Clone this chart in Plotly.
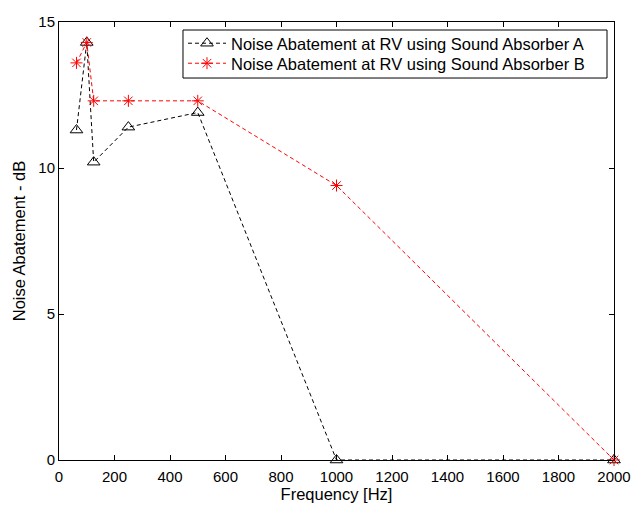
import plotly.graph_objects as go

freq = [63, 100, 125, 250, 500, 1000, 2000]
absorber_a = [11.3, 14.3, 10.2, 11.4, 11.9, 0.0, 0.0]
absorber_b = [13.6, 14.3, 12.3, 12.3, 12.3, 9.4, 0.0]
name_a = "Noise Abatement at RV using Sound Absorber A"
name_b = "Noise Abatement at RV using Sound Absorber B"
x_ticks = list(range(0, 2001, 200))
y_ticks = [0, 5, 10, 15]

FONT = "Liberation Sans, Arial, sans-serif"
DASH = "4px,3px"

fig = go.Figure()
fig.add_trace(go.Scatter(
    x=freq, y=absorber_a, name=name_a, mode="lines+markers", cliponaxis=False,
    legend="legend",
    line=dict(color="black", width=1, dash=DASH),
    marker=dict(symbol="triangle-up-open", size=11, color="black", line=dict(width=1)),
))
fig.add_trace(go.Scatter(
    x=freq, y=absorber_b, name=name_b, mode="lines+markers", cliponaxis=False,
    legend="legend2",
    line=dict(color="red", width=1, dash=DASH),
    marker=dict(symbol="asterisk-open", size=10, color="red", line=dict(width=1, color="red")),
))

axis_common = dict(
    showgrid=False, zeroline=False, showline=True, linecolor="black", linewidth=1,
    mirror="allticks", ticks="inside", ticklen=5, tickcolor="black", automargin=False,
    tickfont=dict(family=FONT, size=15, color="black"),
)
fig.update_xaxes(range=[0, 2000], tickvals=x_ticks, ticklabelstandoff=3,
                 title=dict(text="Frequency [Hz]", font=dict(family=FONT, size=16.5, color="black"), standoff=3),
                 **axis_common)
fig.update_yaxes(range=[0, 15], tickvals=y_ticks,
                 title=dict(text="Noise Abatement - dB", font=dict(family=FONT, size=16.5, color="black"), standoff=8),
                 **axis_common)

legend_common = dict(
    xanchor="left", yanchor="top", bgcolor="rgba(0,0,0,0)", borderwidth=0,
    font=dict(family=FONT, size=16.5, color="black"), itemwidth=38,
)
fig.update_layout(
    width=633, height=505,
    margin=dict(l=59, r=19, t=22, b=45),
    paper_bgcolor="white", plot_bgcolor="white",
    showlegend=True,
    legend=dict(x=0.2234, y=0.9909, **legend_common),
    legend2=dict(x=0.2234, y=0.9452, **legend_common),
    shapes=[dict(type="rect", xref="paper", yref="paper",
                 x0=0.2234, x1=0.9874, y0=0.8721, y1=0.9817,
                 line=dict(color="black", width=1), fillcolor="white", layer="above")],
)
fig.write_html("out.html")
